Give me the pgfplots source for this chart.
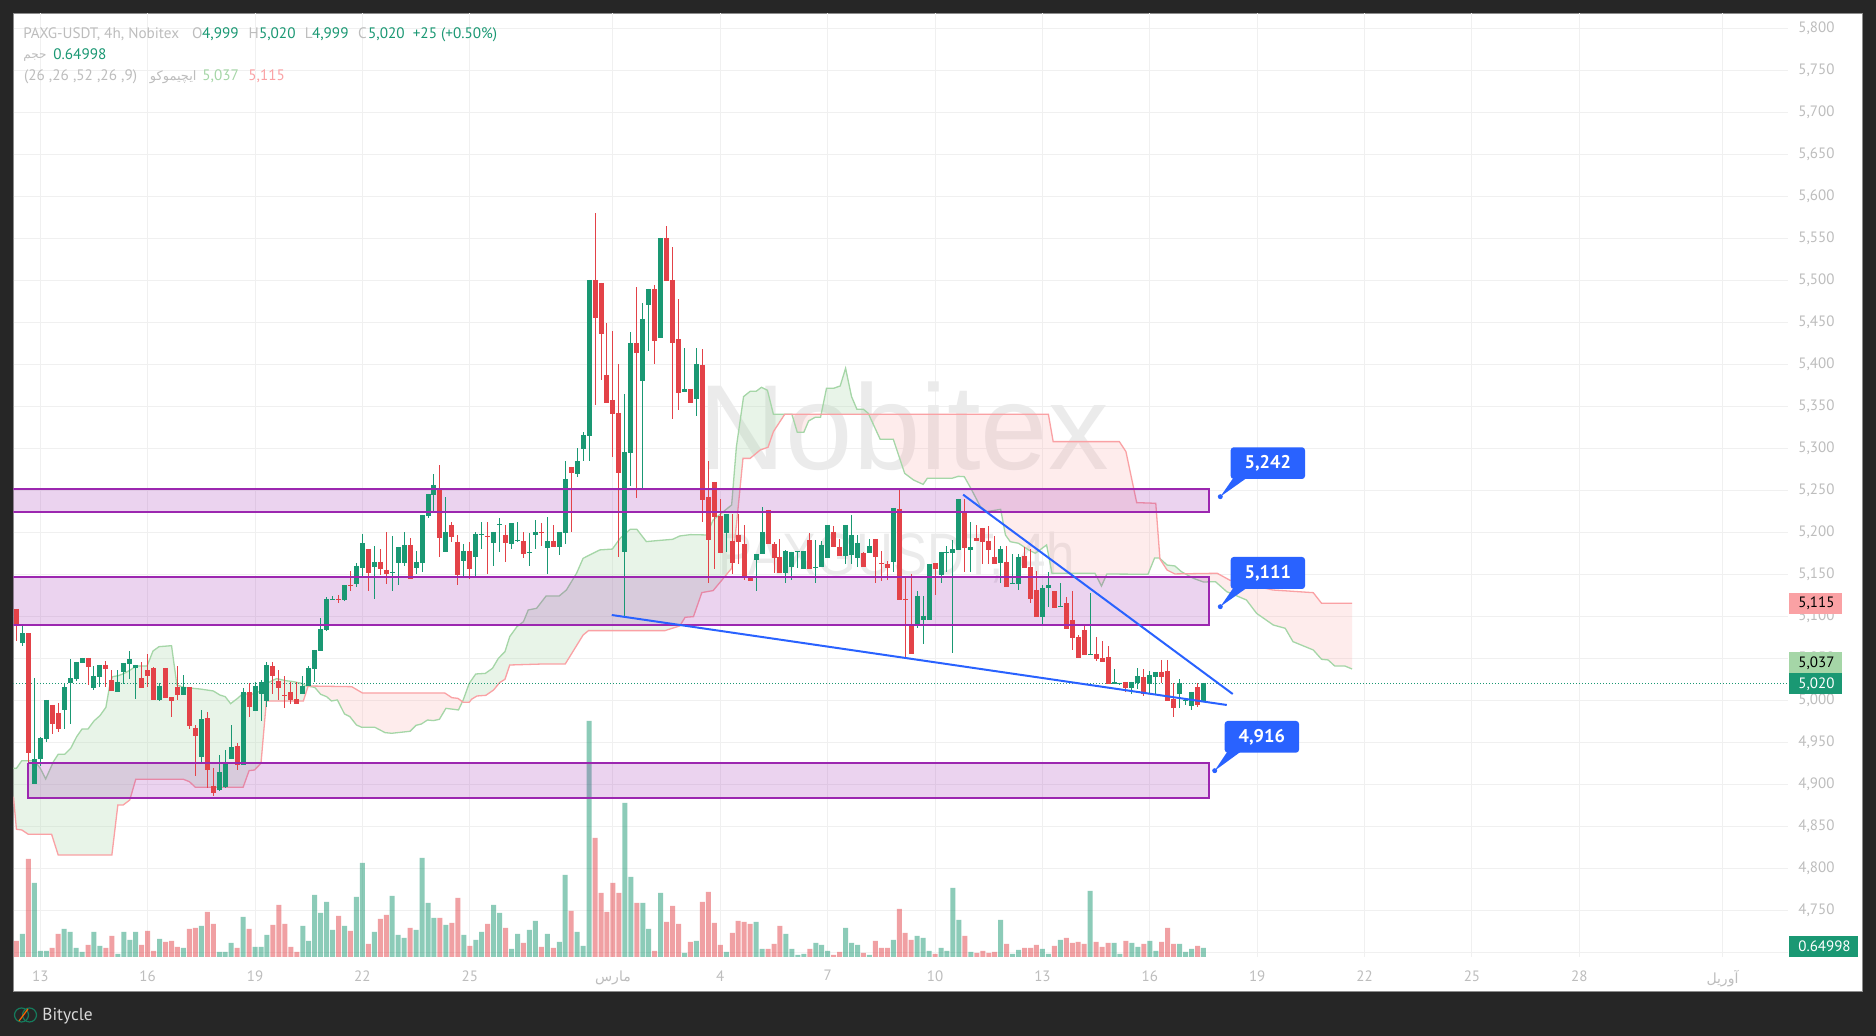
\documentclass[border=0pt]{standalone}
\usepackage{fontspec}
\usepackage{pgfplots}
\usepackage{pgfplotstable}
\pgfplotsset{compat=1.18}
\setmainfont{PT Sans}
\TeXXeTstate=1
\newfontfamily\arabicfont[Script=Arabic]{DejaVu Sans}
\newfontfamily\wmfont{Liberation Sans}
\definecolor{bgd}{HTML}{262626}
\definecolor{cg}{HTML}{1A9873}
\definecolor{cr}{HTML}{E34248}
\definecolor{lg}{HTML}{A5D6A7}
\definecolor{lr}{HTML}{FAA1A4}
\definecolor{pur}{HTML}{9C27B0}
\definecolor{blu}{HTML}{2962FF}
\definecolor{txt}{HTML}{BDBDBD}
\definecolor{gridc}{HTML}{F0F0F0}
\pgfplotstableread{
i t b h l v
-3 5080 5068.2 5090.8 5065 69
-1 4930 4900.4 5026 4900.4 222
0 4955 4930 4956 4921.8 18
1 5000.4 4954 5000.4 4950 18
4 5015.8 4988.5 5020 4965.8 84
5 5026.5 5020.6 5049 4971.8 75
6 5045.6 5025.4 5045.6 5023 27
7 5050.4 5044.4 5050.4 5044.4 15
9 5028.9 5014.6 5040.8 5012.3 75
10 5042 5027.7 5042 5015.4 33
13 5021.8 5009.9 5036 5009.9 9
14 5044.4 5033.7 5044.4 5019.4 75
15 5049 5043.2 5058.7 5025.4 51
16 5042 5038.5 5042 5001.5 75
20 5017 5000.4 5020 4999 54
24 5015.8 5006.3 5030 5006.3 27
27 4977.7 4932.5 4988.5 4926.5 93
30 4914.6 4893.2 4934.9 4892 15
31 4925 4896.8 4940.8 4895.6 15
32 4944.4 4930 4970.6 4930 42
34 5009.9 4923 5014.6 4923 120
36 5017 4987.3 5021.8 4987.3 30
37 5021.8 5007.5 5024 4975.4 30
38 5042 4999 5045.6 4992 66
44 5017 5007.5 5029 5007.5 93
45 5038.5 5017 5040.8 5017 48
46 5059.9 5037.3 5059.9 5021.8 186
47 5084.9 5058.7 5098 5058.7 132
48 5120.6 5083.7 5123 5082 165
49 5120.4 5119.6 5124 5119 81
51 5137.3 5119.4 5137.3 5118.2 93
53 5159.9 5138.5 5163.5 5134.9 180
54 5187.3 5157.5 5198 5146.8 282
56 5164.7 5158.7 5183.7 5120.6 75
59 5153 5151 5195.6 5130 183
60 5182.5 5163.5 5182.5 5137.3 66
61 5184.9 5163.5 5200.4 5159.9 57
63 5164.7 5157.5 5177.8 5150.4 81
64 5220.6 5163.5 5220.6 5152.8 297
65 5245.6 5219.4 5245.6 5217 162
66 5256.3 5244.4 5269.4 5224.2 117
68 5200.4 5176.6 5242 5176.6 96
71 5177.8 5165.9 5186 5146.8 66
73 5198 5170.6 5200.4 5146.8 51
74 5198 5197 5212.3 5180.1 75
76 5200.4 5187.3 5200.4 5159.9 156
77 5209.5 5208.5 5217 5176.6 132
79 5211 5186 5211 5180.1 24
80 5191 5190 5212.3 5189 69
82 5176.5 5175.5 5199 5159.9 81
83 5200.4 5196.8 5214.7 5180.1 108
85 5189.7 5181.3 5218.2 5150.4 69
87 5200.4 5182.5 5200.4 5173 45
88 5263.5 5199.2 5284.9 5186.1 246
90 5284.9 5269.4 5300.4 5265.9 75
91 5315.9 5299.2 5319.4 5284.9 33
92 5500.4 5314.7 5500.4 5284.9 708
98 5295.6 5176.6 5364.7 5100.4 462
99 5425.4 5294.4 5438.5 5255.1 240
101 5454 5380.1 5473 5251.6 162
102 5489.7 5470.6 5489.7 5415.9 84
104 5550.4 5431.3 5550.4 5431.3 192
108 5370.6 5367 5419.4 5367 12
110 5400.4 5358.7 5419.4 5338.5 48
115 5221.8 5199.2 5221.8 5176.6 15
120 5174.2 5167 5174.2 5130.1 105
121 5200.4 5174.2 5230.1 5174.2 24
125 5177.8 5151.6 5179 5139.7 69
126 5176.6 5158.7 5177 5143.2 24
127 5177.8 5176.8 5177.8 5158 6
128 5177.8 5156.3 5177.8 5156.3 9
130 5159 5158 5190.9 5139.7 42
131 5184.9 5158.7 5189.7 5158.7 36
132 5208.7 5169.4 5208.7 5169.4 18
135 5208.7 5171.8 5208.7 5162.3 87
136 5196.8 5173 5220.6 5162.3 42
137 5187.3 5169.4 5196.8 5158.7 36
139 5183.7 5175.4 5192 5175.4 6
143 5229 5164.7 5229 5152.8 51
147 5124.2 5090.9 5130.2 5085.7 63
148 5100.4 5095.6 5124.2 5067 57
149 5162.3 5095.6 5162.3 5095.6 18
151 5176.6 5149.2 5176.6 5139.7 27
152 5177 5176 5183.7 5152.8 18
153 5180.2 5175.4 5190.9 5056.4 207
154 5239.7 5179 5239.7 5179 111
156 5182.5 5179 5212.3 5152.8 15
161 5180.2 5163.5 5183.7 5139.7 111
163 5139.5 5138.5 5174.2 5138 9
164 5170.6 5138.5 5174.2 5131.3 21
168 5133.7 5099.2 5137 5088.5 24
169 5137.3 5133.7 5152.7 5111 9
171 5112 5111 5139.6 5111 51
176 5054.8 5053.8 5127.7 5053.8 198
180 5021.4 5019.8 5037.3 5019.8 42
181 5021 5020 5021 5018 9
183 5021.8 5014.6 5021.8 5007.5 42
184 5028.9 5020.6 5038.5 5013.4 30
186 5030.1 5019.4 5035 5007.5 48
187 5033.7 5027.7 5033.7 5006.3 18
191 5020.6 5007.5 5025.4 4990.8 39
192 5000.5 4999.5 5000.5 4994.4 15
193 5009.9 4993.2 5009.9 4988.5 24
195 5020.6 4998.5 5020.6 4998.5 27
}\tg
\pgfplotstableread{
i t b h l v
-4 5108.7 5089.6 5108.7 5071 48
-2 5080 4937 5080 4925 294
2 4994.4 4971.8 4994.4 4959.9 27
3 4984.9 4965.8 4996.8 4962.3 69
8 5050.4 5039.6 5050.4 5018.2 36
11 5042 5037 5046.8 5015.4 27
12 5024 5011 5036 5011 63
17 5026.5 5014.6 5045.6 5014.6 36
18 5036 5028.9 5055 5015.4 78
19 5038.5 5000.4 5039.6 5000.4 18
21 5038.5 5002.7 5038.5 5002.7 45
22 5003.9 4999.2 5003.9 4980.1 48
23 5015.8 5006.3 5040.8 5000.4 30
25 5015.8 4969.4 5015.8 4965.8 84
26 4967 4957.5 4970 4909.9 87
28 4978.9 4917 4986 4895.6 135
29 4898 4889.7 4919.4 4886 99
33 4945.6 4923 4949 4917 27
35 5009.9 4992 5020 4980.1 84
39 5040.8 5028.9 5045.6 5007.5 96
40 5023 5014.6 5036 5000.4 156
41 5005.9 5005 5029 4990.8 99
42 5009.9 5000.4 5021.8 4995.6 30
43 5001.5 4995.6 5021.8 4995.6 15
50 5120.4 5119.6 5125 5115.8 123
52 5137.3 5136.5 5154 5130 78
55 5180.1 5151.6 5180.1 5130 39
57 5164.7 5156.3 5180.1 5149.2 114
58 5155.1 5150.4 5200.4 5138.5 126
62 5184.9 5144.4 5193.2 5144.4 87
67 5250.4 5193.2 5280.1 5170.6 117
69 5208.7 5194.4 5212.3 5188.5 102
70 5188.5 5149.2 5196.8 5137.3 177
72 5177.8 5156.3 5188.5 5144.4 33
75 5195.6 5194.8 5212.3 5150.4 99
78 5196.8 5187.3 5208.7 5164.7 87
81 5189.7 5174.2 5200.4 5169.4 42
84 5200 5199.2 5211 5183.7 30
86 5189.7 5182.5 5208.7 5182.5 27
89 5277.8 5270.6 5277.8 5200.4 138
93 5500.4 5455.1 5580.1 5351.6 357
94 5496.8 5436 5496.8 5381.3 192
95 5387.3 5354 5449.2 5354 135
96 5357.5 5340.9 5439.7 5289.7 222
97 5342 5270.6 5400.4 5170.6 192
100 5425.4 5413.5 5492 5240.9 162
103 5489.7 5427.8 5494.4 5400.4 18
105 5550.4 5499.2 5564.6 5499.2 105
106 5500.4 5425.4 5539.7 5334.9 153
107 5430 5365.9 5477.7 5345.6 99
109 5370.6 5354 5370.6 5354 45
111 5399.2 5238.5 5418.2 5212.3 165
112 5242 5190.9 5284.9 5139.7 195
113 5259.9 5218.2 5259.9 5156.4 102
114 5219.4 5175.4 5239.7 5175.4 36
116 5189.7 5163.5 5221.8 5150.4 72
117 5196.8 5188.5 5221.8 5162.3 108
118 5186 5145.6 5208.7 5143.2 105
119 5146.8 5142 5146.8 5142 99
122 5226.6 5186 5226.6 5186 24
123 5186 5169.4 5188 5151.6 39
124 5170.6 5151.6 5192 5151.6 93
129 5190.9 5156.3 5199.2 5156.3 24
133 5200.4 5182.5 5207.5 5182.5 6
134 5182.5 5171.8 5192 5171.8 15
138 5175.4 5158.7 5176.6 5158.7 12
140 5192 5170.6 5192 5139.7 48
141 5163 5162 5177.8 5142 27
142 5162.3 5157.5 5165.9 5143.2 27
144 5227.8 5119.4 5250.4 5119.4 144
145 5120.4 5119.6 5146.8 5050.4 72
146 5089.7 5055.2 5150.4 5055.2 51
150 5163.5 5156.3 5163.5 5125.4 9
155 5223 5181.3 5239.7 5152.8 63
157 5193.3 5189.7 5208.7 5189.7 12
158 5205.2 5188.5 5205.2 5162.3 18
159 5189.7 5179 5207.5 5162.3 12
160 5170.6 5162.3 5195.6 5162.3 15
162 5164.7 5135 5183.7 5135 39
165 5171.8 5157.5 5183 5157.5 27
166 5158.7 5120.6 5180.1 5115.8 27
167 5131.3 5099.2 5154 5099.2 36
170 5130.1 5109.9 5130.1 5109.9 33
172 5115.8 5084.9 5123 5084.9 57
173 5095.6 5074.2 5130 5059.9 42
174 5075.4 5050.4 5077.7 5050.4 45
175 5083.7 5054 5090.8 5054 39
177 5055.1 5049.2 5075.4 5046.8 45
178 5050.4 5045.6 5070.6 5045.6 30
179 5051.6 5019.4 5064.7 5019.4 42
182 5021.8 5014.6 5021.8 5009.9 48
185 5027.7 5007.5 5037.3 5005.1 39
188 5033.7 5027.7 5048 5020.6 45
189 5034.9 4999.2 5048 4999.2 87
190 5001.6 4990.8 5020.6 4980.1 39
194 5015.8 4994.4 5020.6 4992 33
}\tr
\pgfplotstableread{
i p
-4.53 4919
-4 4919
-3.1 4928.1
-1 4928.1
0 4919
0.9 4906.3
2.2 4926.9
3 4935.7
4.1 4935.7
5.1 4942.8
6.1 4956.7
7 4965.8
8 4965.8
9 4975.4
10 4981.7
11 4991.6
11.7 5020.2
12.1 5028.1
13.1 5029.3
14.1 5032.1
15.1 5036.1
16.1 5040.8
17.9 5040.8
18.9 5058.7
19.9 5063.8
22 5065
22.9 5018.2
24 5015.4
25.6 5014.2
26.8 5013.4
29 5011.1
30.1 5006.3
31 5004.3
31.9 4996
33 5001.9
33.9 5007.5
36 5007.5
37.1 5012.3
38 5020.2
39.6 5025.8
41.1 5023.4
42.4 5022.2
43.8 5020.2
44.6 5017
46 5015.4
47 5007.1
48 5004.3
48.8 4999.2
49.8 5000.4
51 4983.7
51.9 4980.5
53 4970.6
53.9 4967.8
56.1 4967.8
57.8 4961.5
58.9 4960.7
62 4963.1
63 4970.2
63.9 4971.8
64.9 4976.5
65.9 4975.8
66.9 4977.3
68 4990.4
70.1 4988.5
70.9 5000.4
71.9 5020
73 5031.3
74.6 5032
75.8 5038
76.8 5050
77.9 5057.9
78.7 5075.8
79.9 5087.6
81 5093.6
81.8 5107.5
83.2 5109.5
84.8 5124.2
87 5124.2
88.2 5131.3
89.9 5151.2
91 5169
92.1 5173
93.8 5179
95.9 5180
97.2 5192.8
98.9 5203.6
100 5203.6
101.6 5188.9
103.3 5190
106 5191.6
107.2 5195.6
109 5197.2
111.7 5196.8
112.8 5214.7
115.9 5232.5
116.7 5302
117.9 5361.5
119 5367.8
120 5367.8
120.9 5372.6
121.9 5369
122.9 5340.5
126 5340.5
126.9 5319
128 5319
128.8 5332.5
129.9 5336.9
130.8 5336.9
131.8 5371.4
133 5371.4
134.1 5374.2
135 5395.2
136 5361.5
136.9 5346.4
138 5346.4
138.8 5341.6
140.8 5310.7
143 5310.7
144.9 5270.2
146.4 5262.2
148 5257
148.7 5264.2
152.8 5264.2
153.9 5266.6
154.9 5266.2
156 5252.3
157.6 5230.5
158.7 5224.6
161 5227.3
161.8 5196.8
162.6 5188.8
164 5186.9
165.7 5178.9
166.8 5175
168.7 5184.9
169.6 5151.2
176.8 5151.2
177.9 5136
178.8 5150.3
185.7 5150
186.8 5169.4
187.6 5169.4
188.9 5161
190.2 5159.9
191.3 5153.1
193.3 5145.2
195 5140.8
197 5141.2
198.9 5129.3
202.2 5119.4
203.9 5103.5
206.7 5089.6
208.7 5085.7
210 5069.8
213.4 5059.9
214.8 5048.8
215.9 5048
217 5040.8
218.7 5040.8
219.9 5037.3
}\spana
\pgfplotstableread{
i p
-4.5 4885.3
-4 4846.4
-3.1 4845.6
-2 4840.4
1.9 4840.4
3 4815.8
12 4815.8
13 4875.4
13.9 4875.4
15 4881.3
16 4905.9
24 4905.9
25 4903.1
26 4896.4
34 4896.4
35 4916.2
35.9 4917
37 4925
37.9 4999.2
44.1 4999.2
44.9 5017
52.2 5016.2
54 5008.7
67.8 5008.7
69 5003.1
70 5002.3
70.9 4997.6
71.9 4997.6
72.3 5001.2
73.2 5005.1
74.7 5005.9
76 5012.3
77 5021
77.9 5025
78.7 5042
84.3 5043.2
88 5043.2
91 5077.7
91.9 5082.9
104.7 5082.9
107.2 5088.5
108.1 5098.8
109.5 5099.6
110.9 5128.2
112.8 5130.6
115.9 5157.1
116.7 5208.7
117.8 5288
119 5288
120.7 5298
122 5301.2
122.9 5319.8
124.8 5340.5
169 5340.4
169.8 5307.9
180.9 5307.9
182 5296
183.8 5235.3
187 5234.5
187.7 5168.2
188.9 5155
190.2 5150.4
197.3 5151.2
199.4 5143
206.6 5131.3
213.4 5128.1
214.8 5115.4
219.9 5115.4
}\spanb
\pgfplotsset{
  samebox/.style={
    scale only axis, width=887.25pt, height=471.75pt,
    xmin=-4.493, xmax=292.99,
    anchor=south west, at={(0pt,0pt)}
  },
  kumog/.style={draw=none, fill=lg, fill opacity=.25, forget plot},
  kumor/.style={draw=none, fill=lr, fill opacity=.2, forget plot},
}
\begin{document}
\begin{tikzpicture}
\fill[bgd] (-6.75pt,-39.5pt) rectangle (931.25pt,478.5pt);
\filldraw[fill=white,draw=gray!90,line width=.5pt] (0pt,-17.5pt) rectangle (924.5pt,471.75pt);
% grid, ticks and tick labels
\begin{axis}[samebox,
  ymin=4694.4, ymax=5817.6,
  axis line style={draw=none}, tick style={draw=none}, major tick length=0pt,
  grid=major, grid style={gridc,line width=.5pt},
  ytick={4750,4800,...,5800},
  extra y ticks={4700}, extra y tick labels={},
  xtick={0,18,36,54,72,96,114,132,150,168,186,204,222,240,258,282},
  xticklabels={13,16,19,22,25,{\arabicfont\fontsize{7}{8}\selectfont\beginR مارس\endR},4,7,10,13,16,19,22,25,28,{\arabicfont\fontsize{7}{8}\selectfont\beginR آوریل\endR}},
  yticklabel pos=right,
  scaled y ticks=false,
  ticklabel style={font=\fontsize{7.5}{9}\selectfont, text=txt},
  xticklabel style={inner sep=0pt, yshift=-6.5pt},
  yticklabel style={anchor=west, inner sep=0pt, xshift=5pt,
    /pgf/number format/.cd, 1000 sep={,}, min exponent for 1000 sep=0, assume math mode=true},
]
\addplot[draw=none, forget plot] coordinates {(0,5000) (1,5000)};
\end{axis}
% watermark
\begin{scope}[x=.5pt,y=-.5pt,shift={(-6.75pt,478.5pt)}]
\node[anchor=base west,inner sep=0pt,text=black!8,font=\wmfont\fontsize{60.5}{60}\selectfont] at (698,470) {Nobitex};
\node[anchor=base west,inner sep=0pt,text=black!8,xscale=.85,font=\wmfont\fontsize{30}{30}\selectfont] at (718,576) {PAXGUSDT, 4h};
\end{scope}
% volume
\begin{axis}[samebox, axis lines=none, ymin=0, ymax=2830.5]
\addplot[ybar, bar width=2.5pt, bar shift=0pt, fill=cg, fill opacity=.5, draw=none] table[x=i,y=v] {\tg};
\addplot[ybar, bar width=2.5pt, bar shift=0pt, fill=cr, fill opacity=.5, draw=none] table[x=i,y=v] {\tr};
\end{axis}
% price series
\begin{axis}[samebox, axis lines=none, ymin=4694.4, ymax=5817.6]
% cloud regions: one closed outline for each stretch where one span lies above the other
\addplot[kumog] coordinates {(-4.53,4919)(-4,4919)(-3.1,4928.1)(-1,4928.1)(0,4919)(0.9,4906.3)(2.2,4926.9)(3,4935.7)(4.1,4935.7)(5.1,4942.8)(6.1,4956.7)(7,4965.8)(8,4965.8)(9,4975.4)(10,4981.7)(11,4991.6)(11.7,5020.2)(12.1,5028.1)(13.1,5029.3)(14.1,5032.1)(15.1,5036.1)(16.1,5040.8)(17.9,5040.8)(18.9,5058.7)(19.9,5063.8)(22,5065)(22.9,5018.2)(24,5015.4)(25.6,5014.2)(26.8,5013.4)(29,5011.1)(30.1,5006.3)(31,5004.3)(31.9,4996)(33,5001.9)(33.9,5007.5)(36,5007.5)(37.1,5012.3)(38,5020.2)(39.6,5025.8)(41.1,5023.4)(42.4,5022.2)(43.8,5020.2)(44.6,5017)(44.9,5017)(44.1,4999.2)(37.9,4999.2)(37,4925)(35.9,4917)(35,4916.2)(34,4896.4)(26,4896.4)(25,4903.1)(24,4905.9)(16,4905.9)(15,4881.3)(13.9,4875.4)(13,4875.4)(12,4815.8)(3,4815.8)(1.9,4840.4)(-2,4840.4)(-3.1,4845.6)(-4,4846.4)(-4.5,4885.3)} --cycle;
\addplot[kumor] coordinates {(44.9,5017)(52.2,5016.2)(54,5008.7)(67.8,5008.7)(69,5003.1)(70,5002.3)(70.75,4998.2)(70.1,4988.5)(68,4990.4)(66.9,4977.3)(65.9,4975.8)(64.9,4976.5)(63.9,4971.8)(63,4970.2)(62,4963.1)(58.9,4960.7)(57.8,4961.5)(56.1,4967.8)(53.9,4967.8)(53,4970.6)(51.9,4980.5)(51,4983.7)(49.8,5000.4)(48.8,4999.2)(48,5004.3)(47,5007.1)(46,5015.4)} --cycle;
\addplot[kumog] coordinates {(70.75,4998.2)(70.9,5000.4)(71.9,5020)(73,5031.3)(74.6,5032)(75.8,5038)(76.8,5050)(77.9,5057.9)(78.7,5075.8)(79.9,5087.6)(81,5093.6)(81.8,5107.5)(83.2,5109.5)(84.8,5124.2)(87,5124.2)(88.2,5131.3)(89.9,5151.2)(91,5169)(92.1,5173)(93.8,5179)(95.9,5180)(97.2,5192.8)(98.9,5203.6)(100,5203.6)(101.6,5188.9)(103.3,5190)(106,5191.6)(107.2,5195.6)(109,5197.2)(111.7,5196.8)(112.8,5214.7)(115.9,5232.5)(116.7,5302)(117.9,5361.5)(119,5367.8)(120,5367.8)(120.9,5372.6)(121.9,5369)(122.9,5340.5)(124.8,5340.5)(122.9,5319.8)(122,5301.2)(120.7,5298)(119,5288)(117.8,5288)(116.7,5208.7)(115.9,5157.1)(112.8,5130.6)(110.9,5128.2)(109.5,5099.6)(108.1,5098.8)(107.2,5088.5)(104.7,5082.9)(91.9,5082.9)(91,5077.7)(88,5043.2)(84.3,5043.2)(78.7,5042)(77.9,5025)(77,5021)(76,5012.3)(74.7,5005.9)(73.2,5005.1)(72.3,5001.2)(71.9,4997.6)(70.9,4997.6)} --cycle;
\addplot[kumor] coordinates {(126,5340.5)(130.9,5340.5)(130.8,5336.9)(129.9,5336.9)(128.8,5332.5)(128,5319)(126.9,5319)} --cycle;
\addplot[kumog] coordinates {(130.9,5340.5)(131.8,5371.4)(133,5371.4)(134.1,5374.2)(135,5395.2)(136,5361.5)(136.9,5346.4)(138,5346.4)(138.8,5341.6)(139,5340.5)} --cycle;
\addplot[kumor] coordinates {(139,5340.5)(169,5340.4)(169.8,5307.9)(180.9,5307.9)(182,5296)(183.8,5235.3)(187,5234.5)(187.68,5169.2)(186.8,5169.4)(185.7,5150)(178.8,5150.3)(177.9,5136)(176.8,5151.2)(169.6,5151.2)(168.7,5184.9)(166.8,5175)(165.7,5178.9)(164,5186.9)(162.6,5188.8)(161.8,5196.8)(161,5227.3)(158.7,5224.6)(157.6,5230.5)(156,5252.3)(154.9,5266.2)(153.9,5266.6)(152.8,5264.2)(148.7,5264.2)(148,5257)(146.4,5262.2)(144.9,5270.2)(143,5310.7)(140.8,5310.7)} --cycle;
\addplot[kumog] coordinates {(187.68,5169.2)(188.9,5161)(190.2,5159.9)(191.3,5153.1)(191.9,5150.7)(190.2,5150.4)(188.9,5155)} --cycle;
\addplot[kumor] coordinates {(191.9,5150.7)(197.3,5151.2)(199.4,5143)(206.6,5131.3)(213.4,5128.1)(214.8,5115.4)(219.9,5115.4)(219.9,5037.3)(218.7,5040.8)(217,5040.8)(215.9,5048)(214.8,5048.8)(213.4,5059.9)(210,5069.8)(208.7,5085.7)(206.7,5089.6)(203.9,5103.5)(202.2,5119.4)(198.9,5129.3)(197,5141.2)(195,5140.8)(193.3,5145.2)} --cycle;
\addplot[lg, line width=.65pt] table[x=i,y=p] {\spana};
\addplot[lr, line width=.65pt] table[x=i,y=p] {\spanb};
% zone fills
\addplot[draw=none, fill=pur, fill opacity=.2] coordinates {(-10,5251.6) (196,5251.6) (196,5224.2) (-10,5224.2)} --cycle;
\addplot[draw=none, fill=pur, fill opacity=.2] coordinates {(-10,5146.8) (196,5146.8) (196,5089.7) (-10,5089.7)} --cycle;
\addplot[draw=none, fill=pur, fill opacity=.2] coordinates {(-2.06,4925.4) (196,4925.4) (196,4883.7) (-2.06,4883.7)} --cycle;
% last price
\addplot[cg, line width=.5pt, dash pattern=on .5pt off 1pt] coordinates {(-5,5020) (293,5020)};
% candles: wicks then bodies
\addplot[draw=none, mark=none, error bars/.cd, y dir=both, y explicit, error mark=none, error bar style={draw=cg,line width=.5pt}]
  table[x=i,y=t,y error plus expr=\thisrow{h}-\thisrow{t},y error minus expr=\thisrow{t}-\thisrow{l}] {\tg};
\addplot[draw=none, mark=none, error bars/.cd, y dir=both, y explicit, error mark=none, error bar style={draw=cr,line width=.5pt}]
  table[x=i,y=t,y error plus expr=\thisrow{h}-\thisrow{t},y error minus expr=\thisrow{t}-\thisrow{l}] {\tr};
\addplot[draw=none, mark=none, error bars/.cd, y dir=minus, y explicit, error mark=none, error bar style={draw=cg,line width=2.5pt}]
  table[x=i,y=t,y error minus expr=\thisrow{t}-\thisrow{b}] {\tg};
\addplot[draw=none, mark=none, error bars/.cd, y dir=minus, y explicit, error mark=none, error bar style={draw=cr,line width=2.5pt}]
  table[x=i,y=t,y error minus expr=\thisrow{t}-\thisrow{b}] {\tr};
% zone borders
\addplot[pur, line width=1pt] coordinates {(-10,5251.6) (196,5251.6) (196,5224.2) (-10,5224.2)};
\addplot[pur, line width=1pt] coordinates {(-10,5146.8) (196,5146.8) (196,5089.7) (-10,5089.7)};
\addplot[pur, line width=1pt] coordinates {(-2.06,4925.4) (196,4925.4) (196,4883.7) (-2.06,4883.7) (-2.06,4925.4)};
% trend lines
\addplot[blu, line width=1pt] coordinates {(154.7,5244.8) (199.9,5007.5)};
\addplot[blu, line width=1pt] coordinates {(95.8,5101.5) (198.9,4994.4)};
\end{axis}
% labels in image pixels
\begin{scope}[x=.5pt,y=-.5pt,shift={(-6.75pt,478.5pt)},every node/.style={inner sep=0pt,anchor=base west}]
\tikzset{leg/.style={font=\fontsize{7.6}{9}\selectfont}}
\node[leg,text=txt] at (22.9,38.3) {PAXG-USDT, 4h, Nobitex};
\node[leg,text=txt] at (191.8,38.3) {O};
\node[leg,text=cg] at (201.7,38.3) {4,999};
\node[leg,text=txt] at (248.3,38.3) {H};
\node[leg,text=cg] at (258.6,38.3) {5,020};
\node[leg,text=txt] at (304.5,38.3) {L};
\node[leg,text=cg] at (311.6,38.3) {4,999};
\node[leg,text=txt] at (357.8,38.3) {C};
\node[leg,text=cg] at (367.7,38.3) {5,020};
\node[leg,text=cg] at (412.4,38.3) {+25 (+0.50\%)};
\node[text=txt,font=\arabicfont\fontsize{6}{7}\selectfont] at (22.9,59) {\beginR حجم\endR};
\node[leg,text=cg] at (53,59.3) {0.64998};
\node[leg,text=txt] at (23.7,80.7) {(26 ,26 ,52 ,26 ,9)};
\node[text=txt,font=\arabicfont\fontsize{6.5}{7}\selectfont] at (149.5,80.7) {\beginR ایچیموکو\endR};
\node[leg,text=lg] at (202,80.7) {5,037};
\node[leg,text=lr] at (248,80.7) {5,115};
% price tags
\tikzset{tag/.style={font=\fontsize{7.5}{9}\selectfont}}
\fill[lr] (1789,592.7) rectangle (1842,613.7);
\node[tag,text=black] at (1798,608) {5,115};
\fill[lg] (1789,652) rectangle (1842,672.7);
\node[tag,text=black] at (1798,667.3) {5,037};
\fill[cg] (1789,672.7) rectangle (1842,693.7);
\node[tag,text=white] at (1798,688.3) {5,020};
\fill[cg] (1789,936) rectangle (1858,957);
\node[tag,text=white] at (1798,951.5) {0.64998};
% callouts
\tikzset{call/.style={font=\bfseries\fontsize{9.2}{10}\selectfont,text=white,anchor=center}}
\fill[blu,rounded corners=1.5pt] (1230.7,447.3) rectangle (1305,479);
\fill[blu] (1233.3,478) -- (1246.7,478) -- (1220.3,496.7) -- cycle;
\fill[blu] (1220.3,496.7) circle[radius=2.5];
\node[call] at (1267.8,463.2) {5,242};
\fill[blu,rounded corners=1.5pt] (1230.7,557) rectangle (1305,589);
\fill[blu] (1233.3,588) -- (1246.7,588) -- (1220.3,606.7) -- cycle;
\fill[blu] (1220.3,606.7) circle[radius=2.5];
\node[call] at (1267.8,573) {5,111};
\fill[blu,rounded corners=1.5pt] (1224.7,721) rectangle (1299,752.7);
\fill[blu] (1227.3,751.7) -- (1240.7,751.7) -- (1214.7,770.7) -- cycle;
\fill[blu] (1214.7,770.7) circle[radius=2.5];
\node[call] at (1261.8,737) {4,916};
% footer
\draw[cg!80!black,line width=.6pt] (21.5,1015) circle[radius=7];
\draw[cg!80!black,line width=.6pt] (29.5,1015) circle[radius=7];
\draw[orange!80!red,line width=.6pt] (19,1021) -- (28,1009);
\node[text=white!85!black,font=\fontsize{8.7}{10}\selectfont] at (42,1020.5) {Bitycle};
\end{scope}
\end{tikzpicture}
\end{document}
